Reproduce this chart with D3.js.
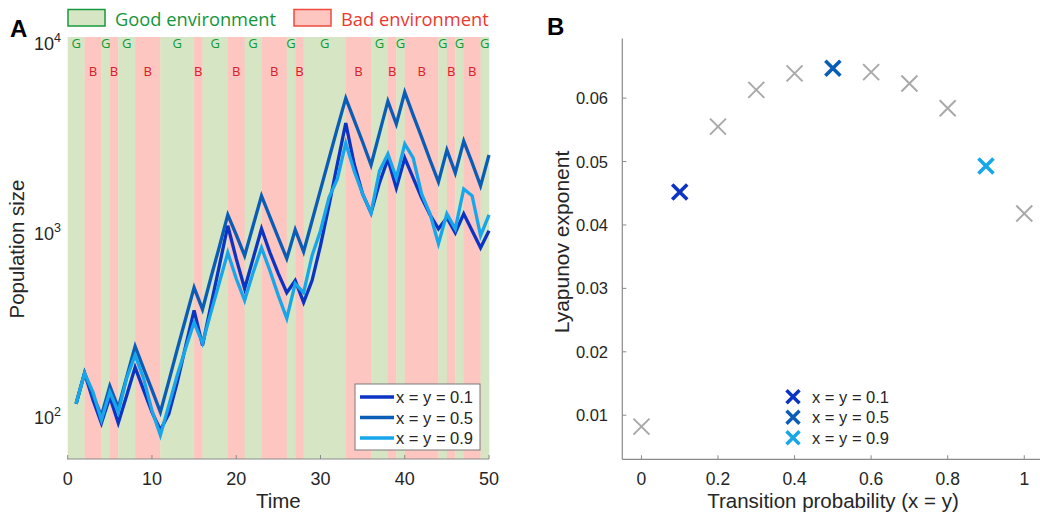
<!DOCTYPE html>
<html>
<head>
<meta charset="utf-8">
<script src="https://cdn.jsdelivr.net/npm/d3@7"></script>
<style>
body { margin: 0; background: #fff; }
text { font-family: "Liberation Sans", Arial, sans-serif; fill: #262626; }
</style>
</head>
<body>
<svg id="fig" width="1040" height="516"></svg>
<script>
// ---- panel A data ----
var times = d3.range(1, 51);
// environment in each unit interval [t, t+1), t = 0..49
var envSeq = "GGBBGBGGBBBGGGGBGGGBBGGBBBGBGGGGGBBBGGBGBBBBGBGBBG".split("");
var seriesNames = ["x = y = 0.1", "x = y = 0.5", "x = y = 0.9"];
var pop01 = [100,147,105,78.5,109,78.5,111,158,119,90,
             72,88,131,206,323,208,344,567,935,619,
             425,619,900,667,513,404,470,357,470,728,
             1201,2031,3393,2031,1395,1100,1601,2162,1504,2189,
             1704,1327,1073,900,1033,856,1086,878,710,878];
var pop05 = [100,147,111,86,125,95,140,206,156,119,
             90,133,198,292,430,327,488,719,1073,835,
             642,935,1361,1046,804,619,889,675,995,1467,
             2162,3186,4639,3523,2675,2006,2994,4468,3351,5000,
             3750,2848,2135,1621,2420,1815,2708,2057,1542,2273];
var pop09 = [100,147,116,81.5,116,90,138,184,138,92,
             67.5,98,143,201,278,214,315,458,667,482,
             366,519,710,532,389,292,452,404,642,878,
             1327,1684,2641,1861,1395,1100,1861,2301,1704,2609,
             2189,1395,1086,746,1086,900,1485,1361,825,1073];
var xTicksA = [0, 10, 20, 30, 40, 50];
var yTicksA = [100, 1000, 10000];

// ---- panel B data ----
var probs = [0, 0.1, 0.2, 0.3, 0.4, 0.5, 0.6, 0.7, 0.8, 0.9, 1];
var lyap = [0.0082, 0.0452, 0.0555, 0.0613, 0.0639, 0.0647, 0.0641, 0.0623, 0.0584, 0.0493, 0.0418];
var highlighted = [0.1, 0.5, 0.9];
var xTicksB = [0, 0.2, 0.4, 0.6, 0.8, 1];
var yTicksB = [0.01, 0.02, 0.03, 0.04, 0.05, 0.06];

var colors = ["#0b33c4", "#0a5db6", "#17a6ea"];
var envFill = { G: "#d6e6c4", B: "#fec6c0" };
var envText = { G: "#10993a", B: "#d3202a" };
var axisGray = "#8a8a8a";

var svg = d3.select("#fig");
svg.append("rect").attr("width", 1040).attr("height", 516).attr("fill", "#fff");

// ================= Panel A =================
var xA = d3.scaleLinear().domain([0, 50]).range([67.7, 489]);
var yA = d3.scaleLog().domain([50, 10000]).range([459, 37]);

// group consecutive intervals into runs
var runs = [];
envSeq.forEach(function(e, i) {
    var last = runs[runs.length - 1];
    if (last && last.env === e) { last.end = i + 1; }
    else { runs.push({env: e, start: i, end: i + 1}); }
});

var gA = svg.append("g");

gA.selectAll("rect.env")
    .data(runs)
    .enter().append("rect")
    .attr("class", "env")
    .attr("x", d => xA(d.start))
    .attr("width", d => xA(d.end) - xA(d.start) + 0.3)
    .attr("y", yA(10000))
    .attr("height", yA(50) - yA(10000))
    .attr("fill", d => envFill[d.env]);

gA.selectAll("text.envlab")
    .data(runs)
    .enter().append("text")
    .attr("class", "envlab")
    .attr("x", d => xA((d.start + d.end) / 2))
    .attr("y", d => d.env === "G" ? 48 : 75.5)
    .attr("text-anchor", "middle")
    .style("font-family", "'Open Sans', sans-serif")
    .style("font-size", "13px")
    .style("fill", d => envText[d.env])
    .text(d => d.env);

// axes A
gA.append("line").attr("x1", xA(0) - 0.7).attr("x2", xA(50))
    .attr("y1", 459).attr("y2", 459).attr("stroke", axisGray).attr("stroke-width", 1.2);
gA.selectAll("line.xtA").data(xTicksA).enter().append("line")
    .attr("x1", d => xA(d)).attr("x2", d => xA(d))
    .attr("y1", 459).attr("y2", 455).attr("stroke", axisGray);
gA.selectAll("text.xtA").data(xTicksA).enter().append("text")
    .attr("x", d => xA(d)).attr("y", 485)
    .attr("text-anchor", "middle").style("font-size", "18px")
    .text(d => d);
gA.append("text").attr("x", xA(25)).attr("y", 508)
    .attr("text-anchor", "middle").style("font-size", "20.5px").text("Time");

var ylabA = gA.selectAll("text.ytA").data(yTicksA).enter().append("text")
    .attr("x", 61)
    .attr("y", d => yA(d) + (d === 10000 ? 13 : 20))
    .attr("text-anchor", "end").style("font-size", "18px");
ylabA.append("tspan").text("10");
ylabA.append("tspan").attr("dy", -8).style("font-size", "12.5px")
    .text(d => Math.round(Math.log10(d)));

gA.append("text")
    .attr("transform", "translate(24,249) rotate(-90)")
    .attr("text-anchor", "middle").style("font-size", "20.5px")
    .text("Population size");

// lines
var lineA = d3.line().x((d, i) => xA(times[i])).y(d => yA(d));
[pop01, pop05, pop09].forEach(function(s, k) {
    gA.append("path").datum(s)
        .attr("d", lineA)
        .attr("fill", "none")
        .attr("stroke", colors[k])
        .attr("stroke-width", 3.3)
        .attr("stroke-linejoin", "miter");
});

// legend A
var legA = gA.append("g");
legA.append("rect").attr("x", 355).attr("y", 384).attr("width", 125).attr("height", 66)
    .attr("fill", "#fff").attr("stroke", "#7a7a7a").attr("stroke-width", 1);
seriesNames.forEach(function(n, k) {
    var yy = 397 + k * 20.5;
    legA.append("line").attr("x1", 360).attr("x2", 394).attr("y1", yy).attr("y2", yy)
        .attr("stroke", colors[k]).attr("stroke-width", 3.3);
    legA.append("text").attr("x", 396).attr("y", yy + 6)
        .style("font-size", "16.5px").text(n);
});

// top legend
var envLegend = [
    {env: "G", label: "Good environment", x: 68, stroke: "#17993d", color: "#15953a"},
    {env: "B", label: "Bad environment", x: 294, stroke: "#ee4c3f", color: "#ea3a2f"}
];
envLegend.forEach(function(d) {
    svg.append("rect").attr("x", d.x).attr("y", 9.5).attr("width", 37).attr("height", 16.5)
        .attr("fill", envFill[d.env]).attr("stroke", d.stroke).attr("stroke-width", 1.5);
    svg.append("text").attr("x", d.x + 47).attr("y", 26)
        .style("font-family", "'Open Sans', sans-serif").style("font-size", "18.3px")
        .style("fill", d.color).text(d.label);
});

svg.append("text").attr("x", 10).attr("y", 37).style("font-size", "24px")
    .style("font-weight", "bold").style("fill", "#000").text("A");
svg.append("text").attr("x", 547).attr("y", 35).style("font-size", "24px")
    .style("font-weight", "bold").style("fill", "#000").text("B");

// ================= Panel B =================
var xB = d3.scaleLinear().domain([-0.05, 1.05]).range([622.3, 1043.4]);
var yB = d3.scaleLinear().domain([0.00305, 0.0694]).range([459.3, 38.5]);
var gB = svg.append("g");

gB.append("line").attr("x1", xB(-0.05)).attr("x2", 1040).attr("y1", 459.3).attr("y2", 459.3)
    .attr("stroke", axisGray).attr("stroke-width", 1.2);
gB.append("line").attr("x1", xB(-0.05)).attr("x2", xB(-0.05)).attr("y1", 38.5).attr("y2", 459.3)
    .attr("stroke", axisGray).attr("stroke-width", 1.2);
gB.selectAll("line.xtB").data(xTicksB).enter().append("line")
    .attr("x1", d => xB(d)).attr("x2", d => xB(d)).attr("y1", 459.3).attr("y2", 455.3)
    .attr("stroke", axisGray);
gB.selectAll("line.ytB").data(yTicksB).enter().append("line")
    .attr("x1", xB(-0.05)).attr("x2", xB(-0.05) + 4).attr("y1", d => yB(d)).attr("y2", d => yB(d))
    .attr("stroke", axisGray);
gB.selectAll("text.xtB").data(xTicksB).enter().append("text")
    .attr("x", d => xB(d)).attr("y", 485).attr("text-anchor", "middle")
    .style("font-size", "17.5px").text(d => d);
gB.selectAll("text.ytB").data(yTicksB).enter().append("text")
    .attr("x", 608).attr("y", d => yB(d) + 6).attr("text-anchor", "end")
    .style("font-size", "16.5px").text(d => d3.format(".2f")(d));
gB.append("text").attr("x", 833).attr("y", 508).attr("text-anchor", "middle")
    .style("font-size", "20.5px").text("Transition probability (x = y)");
gB.append("text")
    .attr("transform", "translate(569,242) rotate(-90)")
    .attr("text-anchor", "middle").style("font-size", "21px")
    .text("Lyapunov exponent");

function cross(r) {
    return "M" + (-r) + "," + (-r) + "L" + r + "," + r + "M" + (-r) + "," + r + "L" + r + "," + (-r);
}

var pts = probs.map((p, i) => ({p: p, v: lyap[i], k: highlighted.indexOf(p)}));
gB.selectAll("path.pt").data(pts).enter().append("path")
    .attr("class", "pt")
    .attr("transform", d => "translate(" + xB(d.p) + "," + yB(d.v) + ")")
    .attr("d", d => d.k >= 0 ? cross(7.5) : cross(8))
    .attr("fill", "none")
    .attr("stroke", d => d.k >= 0 ? colors[d.k] : "#a9a9a9")
    .attr("stroke-width", d => d.k >= 0 ? 3.6 : 2);

seriesNames.forEach(function(n, k) {
    var yy = 396.7 + k * 20.5;
    gB.append("path").attr("transform", "translate(793," + yy + ")")
        .attr("d", cross(6.5)).attr("fill", "none")
        .attr("stroke", colors[k]).attr("stroke-width", 3.4);
    gB.append("text").attr("x", 812).attr("y", yy + 6)
        .style("font-size", "16.5px").text(n);
});
</script>
</body>
</html>
